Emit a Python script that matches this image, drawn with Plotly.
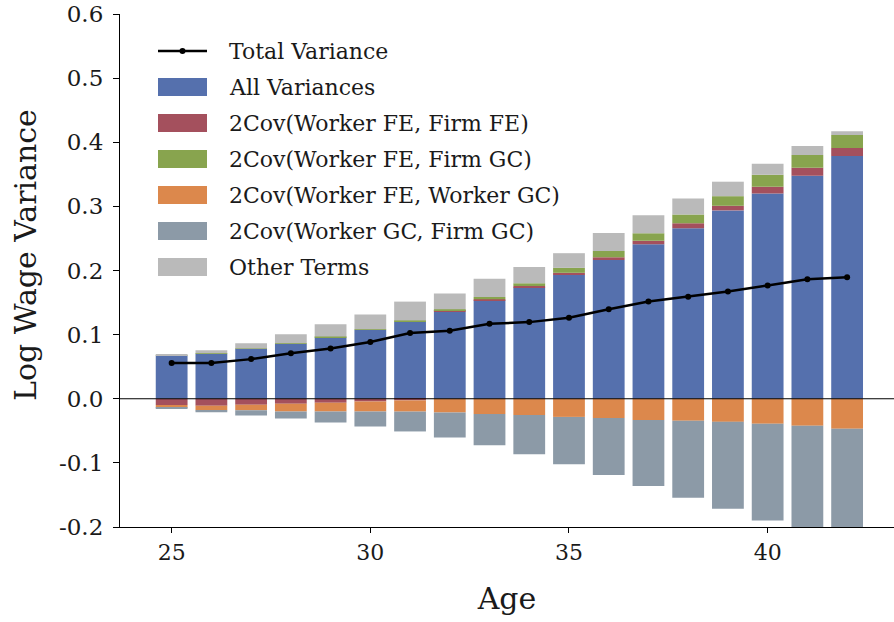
import plotly.graph_objects as go

# Ages on the horizontal axis
ages = list(range(25, 43))

# Variance decomposition components by age
all_variances = [0.0667, 0.0703, 0.0776, 0.0858, 0.0960, 0.1074, 0.1206, 0.1360, 0.1535,
                 0.1733, 0.1934, 0.2164, 0.2411, 0.2658, 0.2937, 0.3199, 0.3478, 0.3787]
cov_wfe_ffe = [-0.0098, -0.0108, -0.0093, -0.0077, -0.0062, -0.0041, -0.0026, 0.0015, 0.0015,
               0.0026, 0.0030, 0.0041, 0.0052, 0.0077, 0.0072, 0.0108, 0.0124, 0.0124]
cov_wfe_fgc = [0.0005, 0.0005, 0.0008, 0.0008, 0.0010, 0.0008, 0.0015, 0.0020, 0.0036,
               0.0041, 0.0077, 0.0098, 0.0118, 0.0139, 0.0150, 0.0185, 0.0201, 0.0201]
cov_wfe_wgc = [-0.0041, -0.0072, -0.0087, -0.0123, -0.0138, -0.0159, -0.0174, -0.0216, -0.0237,
               -0.0252, -0.0283, -0.0299, -0.0330, -0.0345, -0.0360, -0.0390, -0.0422, -0.0468]
cov_wgc_fgc = [-0.0011, -0.0031, -0.0083, -0.0109, -0.0171, -0.0233, -0.0310, -0.0387, -0.0490,
               -0.0614, -0.0737, -0.0891, -0.1030, -0.1200, -0.1356, -0.1510, -0.1670, -0.1810]
other_terms = [0.0023, 0.0049, 0.0082, 0.0139, 0.0190, 0.0232, 0.0294, 0.0248, 0.0284,
               0.0256, 0.0229, 0.0283, 0.0279, 0.0248, 0.0226, 0.0171, 0.0137, 0.0061]
total_variance = [0.0556, 0.0556, 0.0618, 0.0711, 0.0783, 0.0886, 0.1025, 0.1061, 0.1170,
                  0.1195, 0.1262, 0.1396, 0.1515, 0.1592, 0.1674, 0.1767, 0.1865, 0.1896]

y_ticks = [-0.2, -0.1, 0.0, 0.1, 0.2, 0.3, 0.4, 0.5, 0.6]
y_tick_text = ["-0.2", "-0.1", "0.0", "0.1", "0.2", "0.3", "0.4", "0.5", "0.6"]
x_ticks = [25, 30, 35, 40]

components = [
    ("All Variances", all_variances, "#5570AD"),
    ("2Cov(Worker FE, Firm FE)", cov_wfe_ffe, "#A4505D"),
    ("2Cov(Worker FE, Firm GC)", cov_wfe_fgc, "#88A44E"),
    ("2Cov(Worker FE, Worker GC)", cov_wfe_wgc, "#DC884C"),
    ("2Cov(Worker GC, Firm GC)", cov_wgc_fgc, "#8C9AA7"),
    ("Other Terms", other_terms, "#BABABA"),
]

FONT = "DejaVu Serif"
TEXT = "#1a1a1a"
W, H = 894, 622
ML, MR, MT, MB = 120, 0, 14, 95

fig = go.Figure()
for name, vals, color in components:
    fig.add_trace(go.Bar(x=ages, y=vals, name=name, marker_color=color,
                         marker_line_width=0, width=0.8, showlegend=False))

fig.add_trace(go.Scatter(x=ages, y=total_variance, name="Total Variance",
                         mode="lines+markers", line=dict(color="black", width=2.5),
                         marker=dict(color="black", size=6), showlegend=False))

# zero reference line drawn above the bars
shapes = [dict(type="line", xref="paper", x0=0, x1=1, yref="y", y0=0, y1=0,
               line=dict(color="black", width=1), layer="above")]
annotations = []

# hand-built legend, placed in pixel units of the figure
pw, ph = W - ML - MR, H - MT - MB


def px(x):
    return (x - ML) / pw


def py(y):
    return (H - MB - y) / ph


sw_x0, sw_x1, txt_x = 158, 207, 227
row0, row_step = 51, 36
legend_rows = [("Total Variance", None)] + [(n, c) for n, _, c in components]
for i, (label, color) in enumerate(legend_rows):
    yc = row0 + i * row_step
    if color is None:
        shapes.append(dict(type="line", xref="paper", yref="paper",
                           x0=px(sw_x0), x1=px(sw_x1), y0=py(yc), y1=py(yc),
                           line=dict(color="black", width=2.5)))
        cx = (sw_x0 + sw_x1) / 2
        shapes.append(dict(type="circle", xref="paper", yref="paper",
                           x0=px(cx - 3), x1=px(cx + 3), y0=py(yc + 3), y1=py(yc - 3),
                           fillcolor="black", line=dict(width=0)))
    else:
        shapes.append(dict(type="rect", xref="paper", yref="paper",
                           x0=px(sw_x0), x1=px(sw_x1), y0=py(yc + 9), y1=py(yc - 9),
                           fillcolor=color, line=dict(width=0)))
    annotations.append(dict(text=label, xref="paper", yref="paper", x=px(txt_x), y=py(yc),
                            xanchor="left", yanchor="middle", showarrow=False,
                            font=dict(family=FONT, size=22, color=TEXT)))

# y-axis title
annotations.append(dict(text="Log Wage Variance", xref="paper", yref="paper",
                        x=px(25), y=py(255), xanchor="center", yanchor="middle",
                        textangle=-90, showarrow=False,
                        font=dict(family=FONT, size=30, color=TEXT)))

fig.update_layout(
    width=W, height=H,
    margin=dict(l=ML, r=MR, t=MT, b=MB),
    paper_bgcolor="white", plot_bgcolor="white",
    barmode="relative", bargap=0.2,
    shapes=shapes, annotations=annotations,
    font=dict(family=FONT, color=TEXT),
    xaxis=dict(range=[23.70, 43.18], tickvals=x_ticks, showgrid=False, zeroline=False,
               showline=True, linecolor="black", linewidth=1.2, ticks="outside",
               ticklen=5, tickcolor="black", automargin=False,
               tickfont=dict(family=FONT, size=22, color=TEXT),
               title=dict(text="Age", font=dict(family=FONT, size=30, color=TEXT), standoff=24)),
    yaxis=dict(range=[-0.2, 0.6000001], tickvals=y_ticks, ticktext=y_tick_text, showgrid=False,
               zeroline=False, showline=True, linecolor="black", linewidth=1.2,
               ticks="outside", ticklen=6, tickcolor="black", automargin=False,
               ticklabeloverflow="allow", ticklabelstandoff=5,
               tickfont=dict(family=FONT, size=23, color=TEXT)),
)

fig.write_html("out.html")
